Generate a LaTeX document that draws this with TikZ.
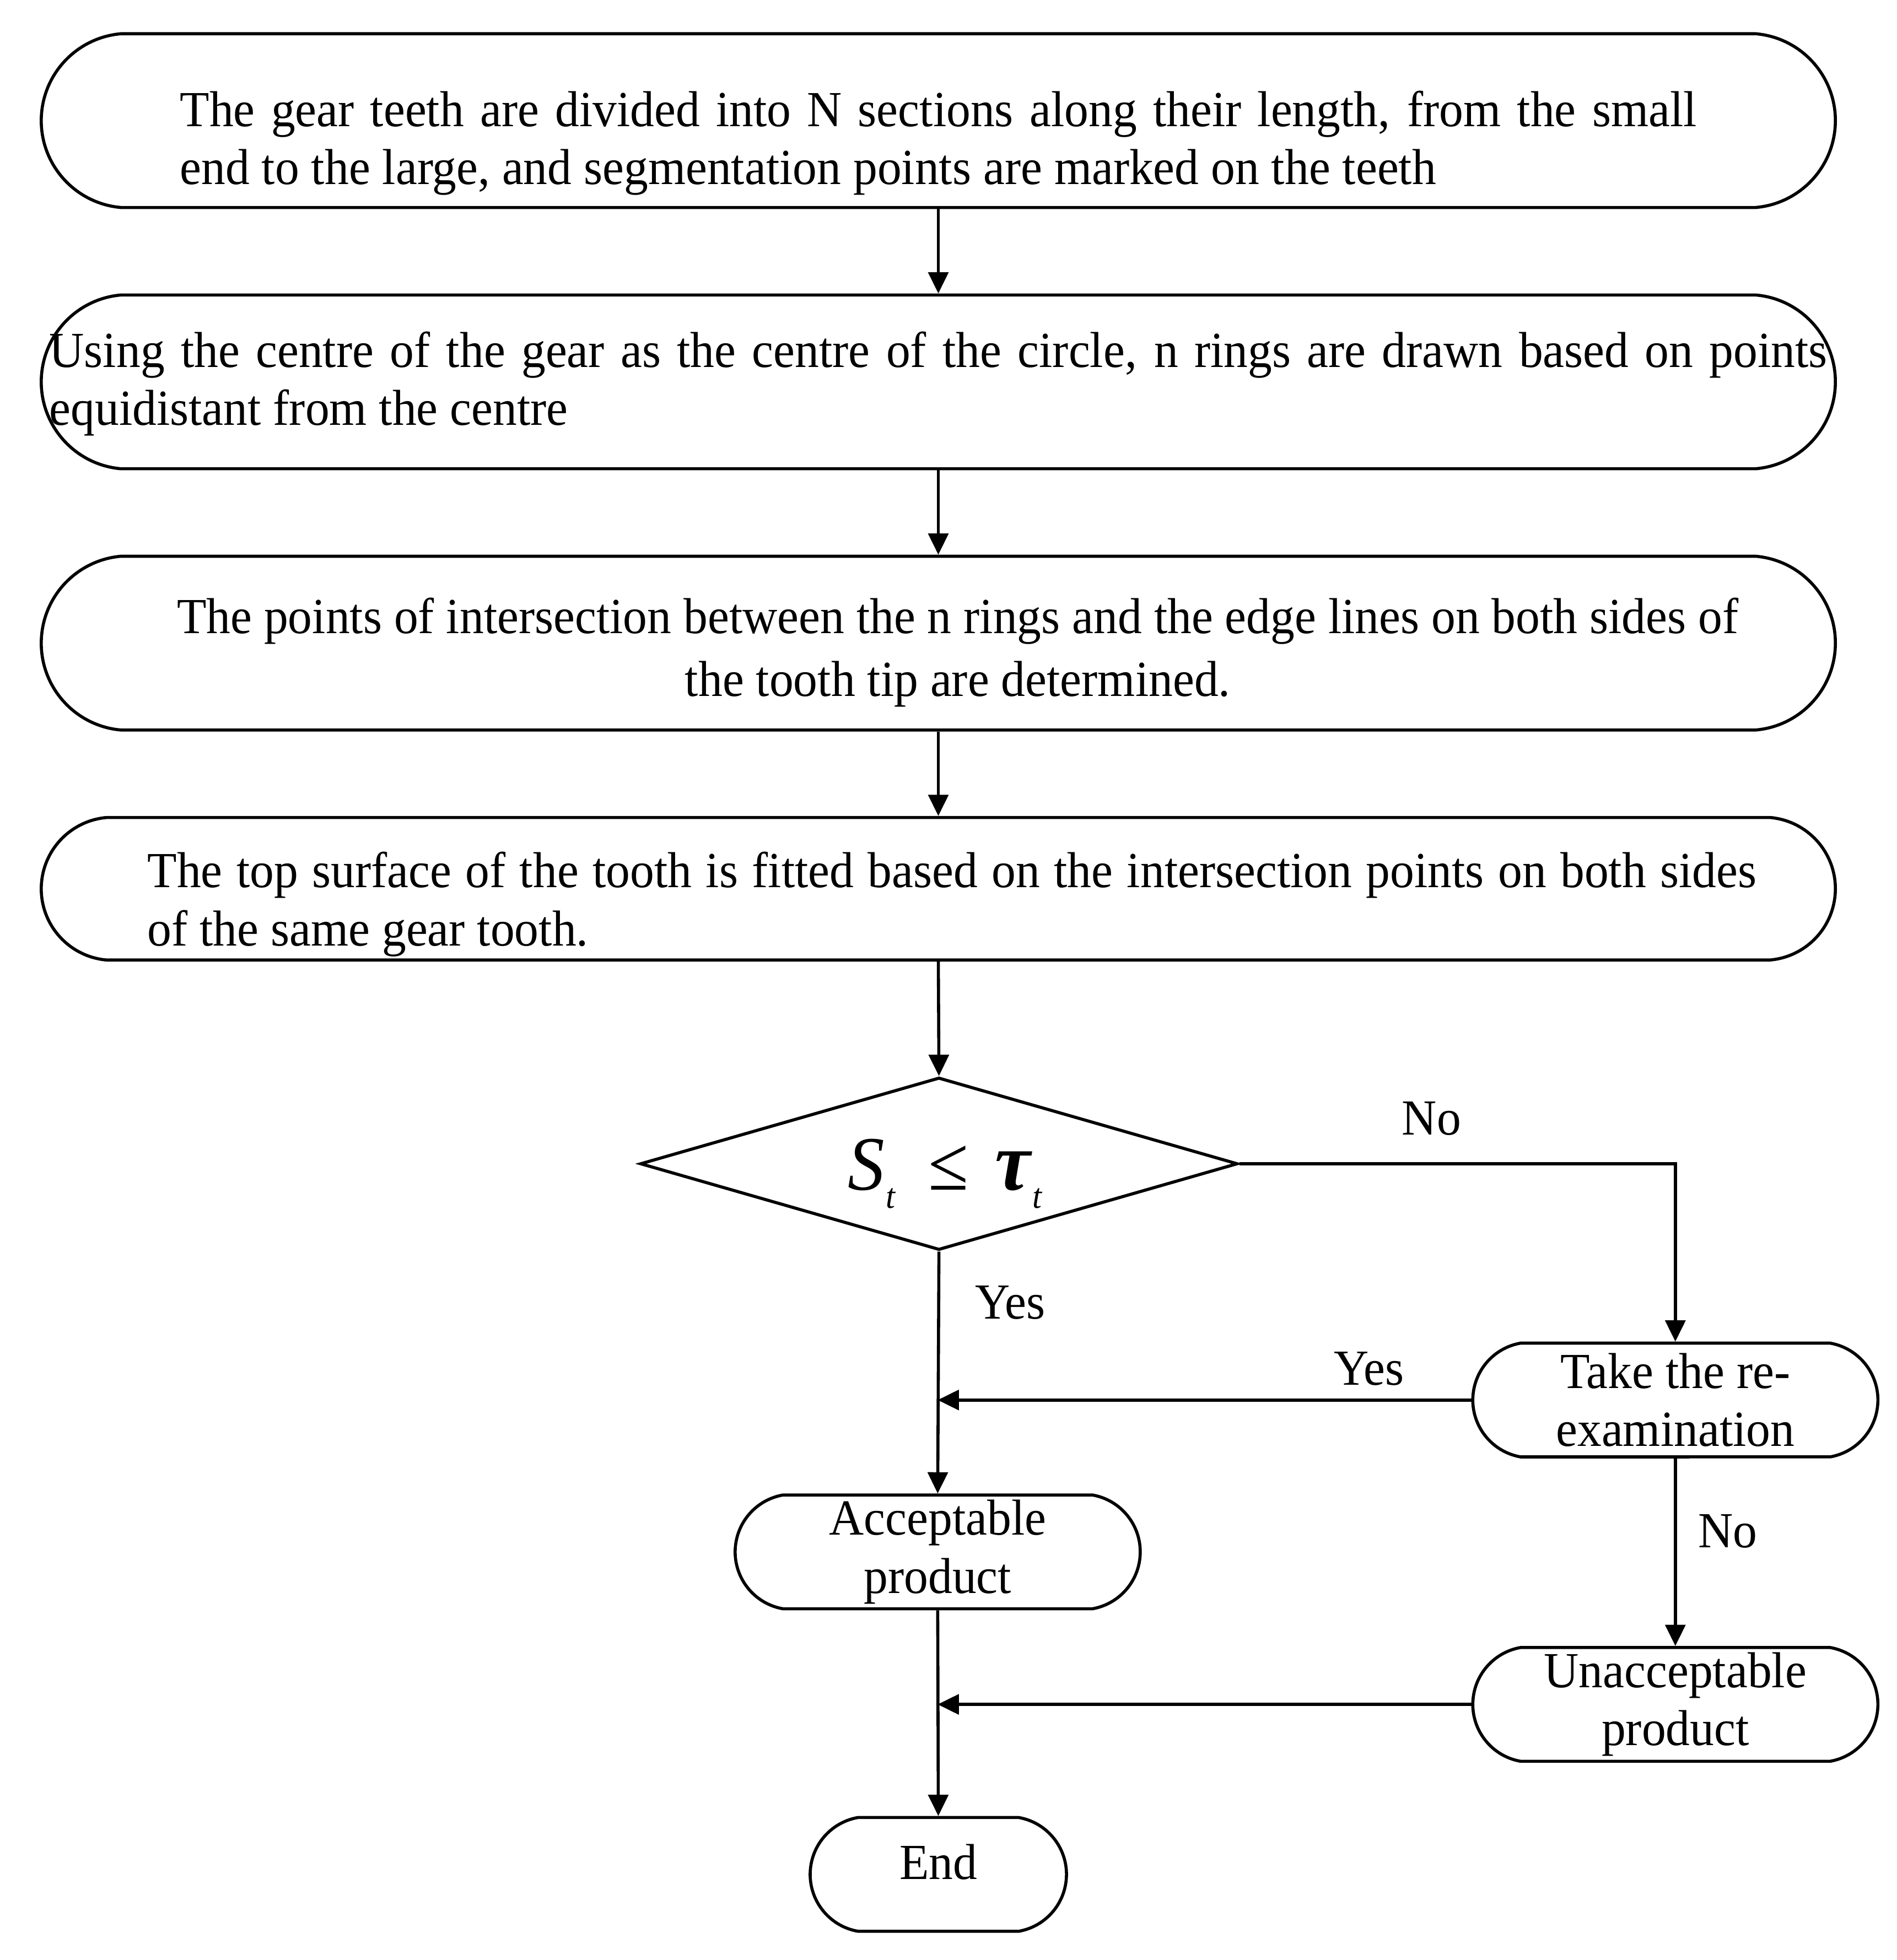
\documentclass[tikz,border=0pt]{standalone}
\usepackage{fontspec}
\setmainfont{Liberation Serif}[FakeStretch=0.955]
\usetikzlibrary{arrows.meta,shapes.misc,shapes.geometric}
\newcommand{\boxtext}[4][0cm]{\makebox[0pt]{\hspace{#1}\raisebox{#2}[0pt][0pt]{\parbox{#3}{#4}}}}

\begin{document}
\begin{tikzpicture}[
  every node/.style={font=\fontsize{11.5}{13.2}\selectfont},
  stepbox/.style={draw, rounded rectangle, rounded rectangle arc length=170, line width=0.7pt, minimum width=14.35cm, inner sep=0pt},
  endbox/.style={draw, rounded rectangle, rounded rectangle arc length=160, line width=0.7pt, minimum width=3.24cm, minimum height=0.91cm, inner sep=0pt, align=center},
  decide/.style={draw, diamond, aspect=3.46, minimum width=4.78cm, minimum height=1.38cm, inner sep=0pt, line width=0.7pt},
  arr/.style={-{Triangle[length=1.7mm,width=1.6mm]}, line width=0.7pt}
]
  \useasboundingbox (0,0) rectangle (15.17,-15.68);

  \node[stepbox, minimum height=1.39cm] (s1) at (7.505,-0.965) {\boxtext{-0.285cm}{12.13cm}{The gear teeth are divided into N sections along their length, from the small\linebreak end to the large, and segmentation points are marked on the teeth}};
  \node[stepbox, minimum height=1.39cm] (s2) at (7.505,-3.055) {\boxtext{-0.12cm}{14.22cm}{Using the centre of the gear as the centre of the circle, n rings are drawn based on points\linebreak equidistant from the centre}};
  \node[stepbox, minimum height=1.39cm] (s3) at (7.505,-5.145) {\boxtext[0.31cm]{-0.18cm}{12.6cm}{\fontsize{11.5}{14.2}\selectfont\centering The points of intersection between the n rings and the edge lines on both sides of\\ the tooth tip are determined.}};
  \node[stepbox, minimum height=1.14cm] (s4) at (7.505,-7.11) {\boxtext[0.22cm]{-0.23cm}{12.87cm}{The top surface of the tooth is fitted based on the intersection points on both sides\linebreak of the same gear tooth.}};

  \node[decide] (dm) at (7.51,-9.31) {\hspace{1mm}\raisebox{-2.1mm}[0pt][0pt]{\fontsize{17.5}{18}\selectfont\textit{S}\kern0.3pt\raisebox{-1.45mm}{\fontsize{8}{8}\selectfont\textit{t}}\hspace{2.6mm}≤\hspace{2.1mm}{\fontsize{19}{19}\selectfont\textbf{\textit{τ}}}\raisebox{-1.45mm}{\fontsize{8}{8}\selectfont\textit{t}}}};

  \node[endbox] (rx) at (13.40,-11.20) {Take the re-\\examination};
  \node[endbox] (ok) at (7.50,-12.415) {Acceptable\\product};
  \node[endbox] (nok) at (13.40,-13.635) {Unacceptable\\product};
  \node[endbox, minimum width=2.05cm, text depth=0.2cm] (fin) at (7.505,-14.995) {End};

  \node (no1) at (11.45,-8.95) {No};
  \node (yes1) at (8.08,-10.42) {Yes};
  \node (yes2) at (10.95,-10.95) {Yes};
  \node (no2) at (13.82,-12.25) {No};

  \draw[arr] (s1.south) -- (s2.north);
  \draw[arr] (s2.south) -- (s3.north);
  \draw[arr] (s3.south) -- (s4.north);
  \draw[arr] (s4.south) -- (dm.north);
  \draw[arr] (dm.east) -| (rx.north);
  \draw[arr] (dm.south) -- (ok.north);
  \draw[arr] (rx.west) -- (ok.north |- rx.west);
  \draw[arr] (rx.south) -- (nok.north);
  \draw[arr] (nok.west) -- (ok.south |- nok.west);
  \draw[arr] (ok.south) -- (fin.north);
\end{tikzpicture}
\end{document}
